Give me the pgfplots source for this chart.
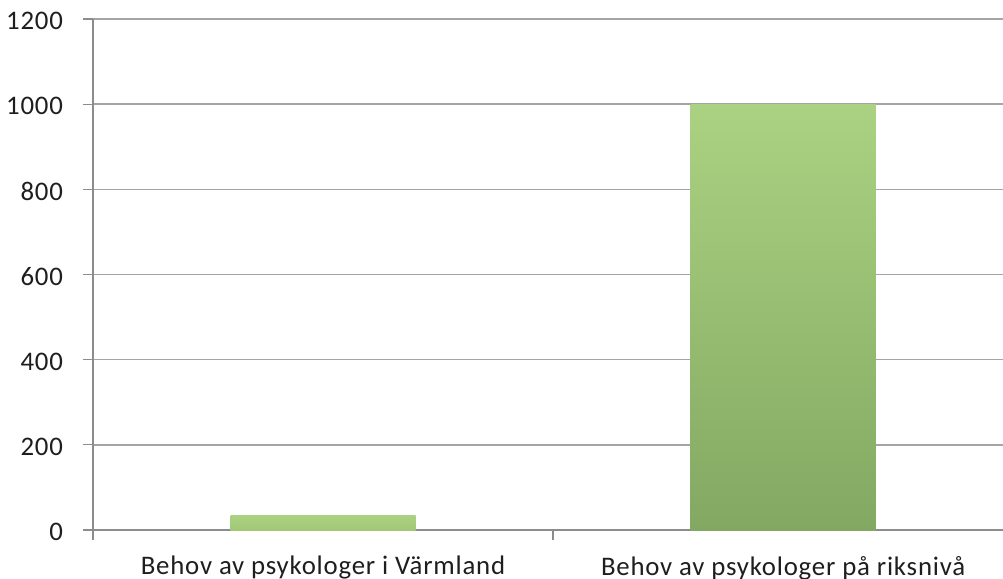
\documentclass[border=0pt]{standalone}
\usepackage{pgfplots}
\pgfplotsset{compat=1.18}
\usepackage{fontspec}
\setmainfont{Carlito}[LetterSpace=3]
\definecolor{gridc}{RGB}{165,165,165}
\definecolor{axc}{RGB}{140,140,140}
\definecolor{txt}{RGB}{30,30,30}
\begin{document}
\begin{tikzpicture}
\begin{axis}[
  name=ax,
  scale only axis,
  width=455pt, height=255.5pt,
  xmin=-0.5, xmax=1.478,
  ymin=0, ymax=1200,
  ytick={0,200,400,600,800,1000,1200},
  xtick={-0.5,0.5},
  xticklabels={},
  extra x ticks={0,1},
  extra x tick labels={Behov av psykologer i Värmland, Behov av psykologer på riksnivå},
  extra x tick style={major tick length=0pt, grid=none, xticklabel style={yshift=-9.5pt}},
  axis lines*=left,
  axis line style={axc, line width=0.8pt},
  ymajorgrids,
  grid style={gridc, line width=0.8pt},
  major tick style={axc, line width=0.6pt},
  major tick length=5pt,
  tick align=outside,
  /pgf/number format/assume math mode=true,
  /pgf/number format/1000 sep={},
  ticklabel style={font=\fontsize{13.4}{16}\selectfont, text=txt},
  yticklabel style={xshift=-6.5pt, yshift=-1pt},
  ybar, bar width=92.5pt,
  clip=false,
]
\addplot[draw=none, bar shift=0pt, top color={rgb,255:red,171;green,210;blue,130}, bottom color={rgb,255:red,160;green,200;blue,118}] coordinates {(0,34)};
\addplot[draw=none, bar shift=0pt, top color={rgb,255:red,171;green,210;blue,130}, bottom color={rgb,255:red,131;green,168;blue,98}] coordinates {(1,1000)};
\end{axis}
\pgfresetboundingbox
\path[use as bounding box] ([xshift=-46.5pt,yshift=-24pt]ax.south west) rectangle ([yshift=9.5pt]ax.north east);
\end{tikzpicture}
\end{document}
